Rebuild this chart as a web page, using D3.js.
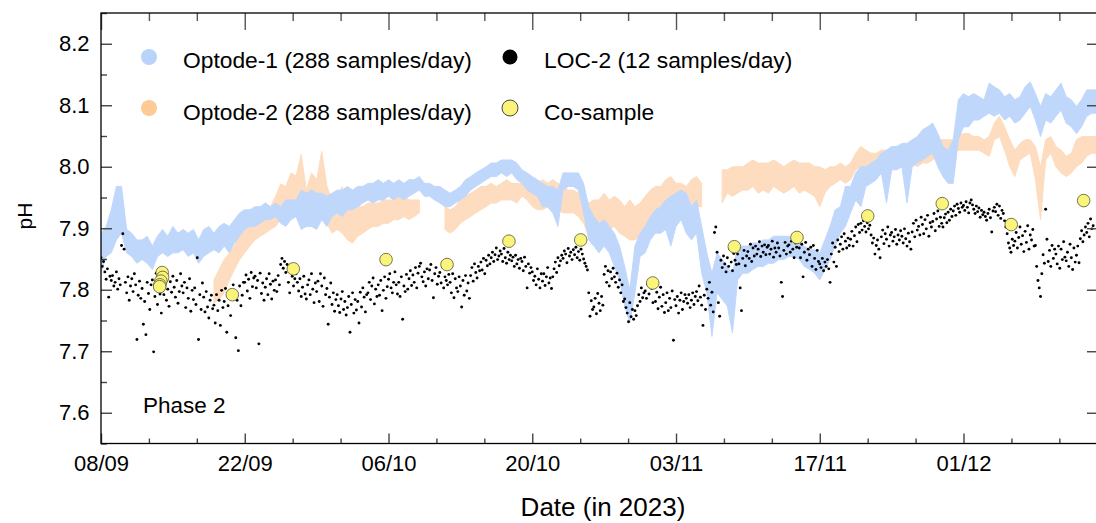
<!DOCTYPE html>
<html><head><meta charset="utf-8">
<script src="https://cdn.jsdelivr.net/npm/d3@7"></script>
<style>body{margin:0;background:#fff}svg{display:block;font-family:"Liberation Sans",Arial,sans-serif}</style>
</head><body><svg id="c" width="1096" height="523"></svg>
<script>
// ---------------- DATA ----------------
const startDateUTC = Date.UTC(2023, 8, 8);   // 08/09/2023
const endDay = 97;                           // 14/12/2023
const optStep = 0.5;                         // optode band samples every half day (day 0 .. 97)

const opt1Hi = [7.892,7.903,7.930,7.968,7.968,7.898,7.892,7.881,7.881,7.887,7.871,7.887,7.898,7.887,7.903,7.892,7.898,7.892,7.898,7.881,
7.898,7.903,7.892,7.903,7.908,7.903,7.914,7.925,7.930,7.930,7.935,7.935,7.941,7.935,7.941,7.935,7.946,7.946,7.946,7.962,
7.957,7.962,7.957,7.957,7.952,7.957,7.962,7.962,7.968,7.962,7.968,7.968,7.973,7.973,7.979,7.973,7.979,7.973,7.979,7.973,
7.979,7.979,7.984,7.973,7.973,7.968,7.968,7.962,7.957,7.962,7.968,7.979,7.984,7.990,7.995,8.000,8.006,8.006,8.011,8.011,
8.011,8.006,7.995,7.990,7.984,7.979,7.973,7.968,7.968,7.962,7.990,7.990,7.990,7.990,7.973,7.935,7.919,7.908,7.914,7.903,
7.892,7.871,7.838,7.800,7.871,7.892,7.903,7.919,7.930,7.935,7.946,7.952,7.957,7.962,7.957,7.935,7.946,7.903,7.860,7.827,
7.860,7.849,7.838,7.827,7.871,7.871,7.871,7.876,7.876,7.881,7.881,7.887,7.887,7.887,7.887,7.881,7.876,7.871,7.865,7.865,
7.860,7.881,7.903,7.930,7.935,7.968,7.968,7.990,8.000,8.000,8.006,8.011,8.022,8.027,8.033,8.033,8.038,8.038,8.044,8.049,
8.060,8.065,8.071,8.054,8.033,8.027,8.044,8.109,8.119,8.114,8.119,8.114,8.109,8.136,8.130,8.125,8.114,8.119,8.109,8.114,
8.130,8.138,8.119,8.098,8.119,8.114,8.125,8.136,8.114,8.109,8.098,8.109,8.125,8.125,8.125];
const opt1Lo = [7.827,7.854,7.860,7.881,7.892,7.860,7.854,7.843,7.849,7.843,7.833,7.854,7.860,7.854,7.860,7.860,7.865,7.854,7.860,7.843,
7.854,7.860,7.865,7.860,7.871,7.860,7.876,7.887,7.898,7.903,7.903,7.908,7.914,7.914,7.919,7.908,7.903,7.914,7.919,7.898,
7.903,7.903,7.898,7.914,7.903,7.919,7.925,7.919,7.930,7.930,7.935,7.941,7.946,7.941,7.946,7.946,7.952,7.946,7.952,7.946,
7.952,7.957,7.962,7.952,7.952,7.946,7.941,7.935,7.935,7.941,7.946,7.952,7.962,7.968,7.973,7.979,7.984,7.984,7.990,7.984,
7.990,7.979,7.973,7.962,7.957,7.952,7.935,7.935,7.925,7.903,7.962,7.968,7.968,7.962,7.925,7.881,7.871,7.860,7.871,7.860,
7.838,7.816,7.773,7.746,7.795,7.854,7.860,7.881,7.892,7.892,7.898,7.871,7.903,7.914,7.892,7.881,7.892,7.827,7.795,7.724,
7.795,7.784,7.773,7.730,7.816,7.827,7.827,7.833,7.838,7.838,7.843,7.843,7.849,7.849,7.854,7.854,7.849,7.838,7.833,7.827,
7.816,7.833,7.849,7.871,7.892,7.903,7.925,7.946,7.935,7.968,7.973,7.979,7.990,7.941,7.995,7.995,8.000,7.941,8.000,8.006,
8.011,8.017,8.022,8.000,7.984,7.973,7.973,8.044,8.065,8.065,8.076,8.076,8.082,8.087,8.082,8.087,8.076,8.082,8.071,8.076,
8.087,8.098,8.076,8.049,8.076,8.071,8.082,8.092,8.071,8.065,8.054,8.065,8.082,8.087,8.087];

const N = null;
const opt2Hi = [N,N,N,N,N,N,N,N,N,N,N,N,N,N,N,N,N,N,N,N,N,N,
7.816,7.833,7.849,7.860,7.871,7.892,7.903,7.908,7.914,7.919,7.941,7.935,7.952,7.972,7.968,7.990,7.985,8.020,7.962,7.990,
7.979,8.025,7.968,7.946,7.952,7.968,7.935,7.930,7.935,7.935,7.941,7.941,7.941,7.946,7.946,7.946,7.952,7.952,7.946,7.946,7.946,
N,N,N,N,
7.935,7.930,7.935,7.946,7.952,7.957,7.962,7.968,7.968,7.973,7.968,7.973,7.979,7.973,7.973,7.973,7.979,7.973,7.973,7.979,
7.973,7.979,7.973,7.968,7.962,7.962,7.957,7.952,7.941,7.946,7.946,7.957,7.946,7.952,7.946,7.935,7.946,7.935,7.941,7.952,
7.962,7.968,7.968,7.979,7.984,7.973,7.973,7.968,7.979,7.984,7.973,
N,N,N,
7.995,7.995,8.000,8.000,8.000,8.006,8.011,8.006,8.006,8.006,8.011,8.006,8.000,8.006,8.011,8.006,8.006,8.006,8.000,8.000,
7.995,8.000,8.000,8.006,8.000,8.006,8.022,8.033,8.027,8.022,8.022,8.027,8.027,8.022,8.027,8.033,8.033,8.033,8.033,8.038,
8.038,8.044,8.044,8.044,8.044,8.044,8.049,8.054,8.054,8.049,8.049,8.044,8.049,8.071,8.082,8.065,8.044,8.027,8.038,8.044,
8.044,8.033,8.000,8.044,8.049,8.033,8.027,8.017,8.022,8.044,8.049,8.049,8.049,8.049];
const opt2Lo = [N,N,N,N,N,N,N,N,N,N,N,N,N,N,N,N,N,N,N,N,N,N,
7.779,7.784,7.795,7.816,7.833,7.849,7.860,7.871,7.881,7.887,7.892,7.898,7.903,7.914,7.919,7.925,7.919,7.903,7.903,7.903,
7.908,7.914,7.908,7.892,7.898,7.892,7.881,7.876,7.887,7.892,7.898,7.903,7.903,7.908,7.908,7.914,7.914,7.919,7.914,7.919,7.925,
N,N,N,N,
7.898,7.892,7.898,7.908,7.914,7.919,7.925,7.930,7.935,7.941,7.941,7.946,7.946,7.946,7.941,7.952,7.946,7.935,7.930,7.930,
7.935,7.925,7.930,7.925,7.925,7.925,7.919,7.908,7.887,7.892,7.903,7.898,7.898,7.903,7.892,7.887,7.881,7.881,7.887,7.892,
7.903,7.914,7.919,7.925,7.930,7.925,7.930,7.925,7.925,7.935,7.935,
N,N,N,
7.941,7.957,7.952,7.957,7.962,7.962,7.968,7.957,7.962,7.957,7.968,7.962,7.957,7.962,7.968,7.957,7.962,7.957,7.952,7.935,
7.957,7.968,7.973,7.979,7.973,7.979,7.995,8.000,8.000,7.995,8.000,8.000,7.995,7.995,8.000,8.000,8.000,8.006,8.000,8.006,
8.006,8.011,8.017,8.017,8.022,8.022,8.027,8.027,8.027,8.027,8.027,8.022,8.017,8.044,8.049,8.027,8.000,7.984,8.011,8.017,
8.022,7.979,7.914,8.011,8.022,8.000,7.990,7.984,7.990,8.000,8.006,8.017,8.022,8.022];

const loc2PerDay = 8;   // LOC-2 values, 8 per day from 08/09
const loc2Values = [
7.852,7.838,7.846,7.829,7.817,7.834,7.788,7.822, 7.815,7.823,7.806,7.812,7.829,7.801,7.818,7.808,
7.872,7.891,7.866,7.812,7.795,7.821,7.783,7.806, 7.818,7.797,7.826,7.808,7.719,7.791,7.814,7.786,
7.802,7.744,7.781,7.727,7.812,7.794,7.768,7.808, 7.816,7.699,7.789,7.827,7.776,7.805,7.793,7.762,
7.809,7.792,7.817,7.783,7.801,7.773,7.813,7.796, 7.822,7.804,7.788,7.815,7.778,7.797,7.826,7.806,
7.795,7.812,7.771,7.803,7.786,7.818,7.765,7.799, 7.784,7.803,7.776,7.852,7.719,7.792,7.768,7.811,
7.788,7.764,7.797,7.772,7.754,7.783,7.791,7.769, 7.775,7.746,7.792,7.766,7.783,7.742,7.799,7.771,
7.781,7.802,7.731,7.774,7.795,7.758,7.787,7.808, 7.797,7.722,7.783,7.701,7.806,7.774,7.791,7.812,
7.812,7.824,7.798,7.817,7.786,7.828,7.805,7.819, 7.822,7.803,7.815,7.712,7.827,7.794,7.811,7.783,
7.804,7.818,7.792,7.826,7.809,7.785,7.814,7.799, 7.816,7.797,7.823,7.808,7.841,7.851,7.835,7.846,
7.828,7.841,7.812,7.795,7.833,7.822,7.806,7.818, 7.826,7.812,7.798,7.818,7.789,7.804,7.822,7.793,
7.785,7.808,7.816,7.792,7.826,7.801,7.779,7.811, 7.797,7.814,7.781,7.826,7.806,7.773,7.819,7.792,
7.802,7.744,7.788,7.811,7.776,7.795,7.765,7.784, 7.792,7.774,7.763,7.785,7.797,7.768,7.781,7.759,
7.771,7.789,7.731,7.776,7.795,7.762,7.784,7.767, 7.781,7.746,7.796,7.772,7.803,7.788,7.764,7.792,
7.795,7.812,7.784,7.806,7.819,7.777,7.801,7.789, 7.808,7.791,7.815,7.766,7.799,7.821,7.786,7.805,
7.817,7.826,7.803,7.795,7.812,7.829,7.808,7.793, 7.812,7.789,7.821,7.752,7.806,7.797,7.825,7.801,
7.818,7.831,7.807,7.824,7.812,7.836,7.803,7.827, 7.838,7.843,7.821,7.813,7.829,7.806,7.834,7.818,
7.832,7.841,7.815,7.787,7.826,7.836,7.809,7.822, 7.828,7.811,7.837,7.803,7.821,7.815,7.808,7.825,
7.812,7.795,7.826,7.787,7.818,7.803,7.797,7.821, 7.806,7.772,7.815,7.791,7.823,7.798,7.811,7.786,
7.823,7.836,7.814,7.842,7.828,7.819,7.838,7.831, 7.845,7.832,7.851,7.826,7.848,7.839,7.856,7.842,
7.852,7.861,7.846,7.857,7.868,7.849,7.855,7.863, 7.858,7.846,7.867,7.852,7.843,7.861,7.849,7.856,
7.847,7.853,7.838,7.856,7.842,7.849,7.835,7.851, 7.846,7.831,7.853,7.838,7.803,7.842,7.827,7.836,
7.829,7.815,7.822,7.808,7.834,7.817,7.803,7.826, 7.814,7.826,7.807,7.821,7.836,7.811,7.819,7.802,
7.821,7.834,7.845,7.828,7.852,7.839,7.847,7.856, 7.851,7.863,7.858,7.844,7.867,7.855,7.861,7.849,
7.865,7.857,7.869,7.852,7.862,7.848,7.866,7.858, 7.850,7.843,7.838,7.832,7.795,7.757,7.782,7.768,
7.772,7.786,7.761,7.794,7.778,7.766,7.789,7.775, 7.825,7.838,7.812,7.831,7.806,7.829,7.818,7.835,
7.821,7.812,7.827,7.804,7.816,7.795,7.808,7.781, 7.785,7.771,7.762,7.748,7.779,7.756,7.768,7.752,
7.766,7.758,7.774,7.792,7.781,7.803,7.787,7.795, 7.798,7.786,7.809,7.793,7.815,7.802,7.779,7.806,
7.781,7.796,7.769,7.788,7.804,7.773,7.792,7.763, 7.779,7.795,7.766,7.786,7.771,7.798,7.718,7.784,
7.774,7.789,7.762,7.783,7.795,7.768,7.781,7.792, 7.786,7.778,7.792,7.771,7.783,7.795,7.776,7.789,
7.797,7.782,7.806,7.788,7.775,7.742,7.791,7.768, 7.801,7.786,7.812,7.775,7.796,7.764,7.893,7.902,
7.861,7.779,7.757,7.848,7.836,7.855,7.842,7.829, 7.852,7.838,7.866,7.845,7.831,7.859,7.848,7.841,
7.858,7.842,7.803,7.766,7.851,7.864,7.839,7.855, 7.862,7.851,7.874,7.846,7.868,7.855,7.871,7.858,
7.866,7.878,7.854,7.871,7.861,7.873,7.857,7.869, 7.872,7.858,7.866,7.879,7.853,7.868,7.861,7.876,
7.868,7.855,7.812,7.789,7.864,7.877,7.858,7.871, 7.873,7.861,7.879,7.866,7.852,7.876,7.869,7.882,
7.868,7.852,7.874,7.821,7.861,7.877,7.848,7.866, 7.857,7.869,7.838,7.872,7.851,7.833,7.864,7.846,
7.842,7.836,7.851,7.831,7.845,7.838,7.849,7.834, 7.812,7.858,7.876,7.845,7.869,7.838,7.881,7.862,
7.874,7.886,7.866,7.891,7.879,7.868,7.884,7.872, 7.882,7.895,7.871,7.888,7.902,7.878,7.906,7.893,
7.908,7.897,7.912,7.903,7.894,7.909,7.899,7.905, 7.889,7.876,7.884,7.858,7.872,7.881,7.866,7.852,
7.886,7.897,7.875,7.891,7.882,7.902,7.871,7.889, 7.893,7.879,7.886,7.898,7.874,7.889,7.881,7.896,
7.887,7.876,7.899,7.883,7.871,7.892,7.878,7.866, 7.894,7.908,7.886,7.913,7.897,7.903,7.889,7.918,
7.906,7.891,7.914,7.899,7.921,7.887,7.909,7.902, 7.911,7.924,7.896,7.915,7.928,7.903,7.918,7.908,
7.902,7.917,7.923,7.909,7.926,7.913,7.931,7.919, 7.928,7.936,7.921,7.939,7.932,7.926,7.941,7.934,
7.937,7.929,7.943,7.934,7.925,7.941,7.946,7.938, 7.931,7.924,7.936,7.927,7.933,7.918,7.929,7.922,
7.926,7.919,7.913,7.924,7.931,7.917,7.894,7.928, 7.934,7.927,7.939,7.921,7.936,7.916,7.929,7.924,
7.912,7.902,7.891,7.876,7.868,7.861,7.882,7.872, 7.879,7.893,7.868,7.885,7.902,7.874,7.888,7.862,
7.895,7.877,7.904,7.866,7.889,7.881,7.898,7.871, 7.872,7.838,7.815,7.803,7.789,7.826,7.857,7.843,
7.931,7.882,7.846,7.864,7.838,7.872,7.851,7.866, 7.858,7.842,7.871,7.835,7.866,7.849,7.878,7.853,
7.847,7.861,7.838,7.874,7.852,7.833,7.868,7.845, 7.856,7.871,7.844,7.883,7.896,7.878,7.889,7.902,
7.893,7.908,7.886,7.915,7.899,7.904];

const coDays   = [5.96,6.00,5.83,5.74,5.71,12.79,18.73,27.76,33.70,39.73,46.72,53.73,61.68,67.78,74.67,81.93,88.65,95.70];
const coValues = [7.828,7.820,7.814,7.808,7.805,7.792,7.834,7.849,7.841,7.879,7.881,7.811,7.870,7.885,7.920,7.940,7.906,7.945];

const xMajorDays = [0,14,28,42,56,70,84];
const yTicks = [7.6,7.7,7.8,7.9,8.0,8.1,8.2];
const yMinor = [7.55,7.65,7.75,7.85,7.95,8.05,8.15,8.25];
const legendLabels = ["Optode-1 (288 samples/day)","Optode-2 (288 samples/day)","LOC-2 (12 samples/day)","Co-sample"];

// ---------------- CHART ----------------
const svg = d3.select("#c");
const L = 101, R = 1097, T = 13, B = 443.5;
const toDate = d => new Date(startDateUTC + d * 864e5);
const x = d3.scaleUtc().domain([toDate(0), toDate(endDay)]).range([L, R]);
const y = d3.scaleLinear().domain([7.55, 8.25]).range([B, T]);

svg.append("defs").append("clipPath").attr("id","clip")
  .append("rect").attr("x",L).attr("y",T).attr("width",R-L).attr("height",B-T);
const plot = svg.append("g").attr("clip-path","url(#clip)");

function band(hi, lo, color){
  const pts = hi.map((h,i)=>({d:i*optStep, h, l:lo[i]}));
  const area = d3.area().defined(p=>p.h!==null && p.l!==null)
    .x(p=>x(toDate(p.d))).y0(p=>y(p.l)).y1(p=>y(p.h));
  plot.append("path").datum(pts).attr("d",area).attr("fill",color)
    .attr("stroke",color).attr("stroke-width",1);
}
band(opt2Hi, opt2Lo, "#fddcbf");
band(opt1Hi, opt1Lo, "#c0d7fc");

plot.append("g").selectAll("circle").data(loc2Values).join("circle")
  .attr("cx",(v,i)=>x(toDate(i/loc2PerDay))).attr("cy",v=>y(v)).attr("r",1.45).attr("fill","#000");

plot.append("g").selectAll("circle").data(coValues).join("circle")
  .attr("cx",(v,i)=>x(toDate(coDays[i]))).attr("cy",v=>y(v)).attr("r",6.3)
  .attr("fill","#fbf47a").attr("stroke","#55553a").attr("stroke-width",0.8);

// axes
const majorDates = xMajorDays.map(toDate);
const minorDates = d3.range(0, endDay, 14/3).filter((d,i)=>i%3!==0).map(toDate);
const fmt = d3.utcFormat("%d/%m");

function styleAxis(g, col){ g.select(".domain").remove(); g.selectAll("line").attr("stroke",col).attr("stroke-width",1.4); }

const gb = svg.append("g").attr("transform",`translate(0,${B})`)
  .call(d3.axisBottom(x).tickValues(majorDates).tickFormat(fmt).tickSizeInner(-10).tickSizeOuter(0).tickPadding(12));
styleAxis(gb,"#444");
gb.selectAll("text").attr("font-size",22).attr("font-family","Liberation Sans, Arial, sans-serif").attr("fill","#000");
const gbm = svg.append("g").attr("transform",`translate(0,${B})`)
  .call(d3.axisBottom(x).tickValues(minorDates).tickFormat("").tickSizeInner(-5).tickSizeOuter(0));
styleAxis(gbm,"#444");

const gt = svg.append("g").attr("transform",`translate(0,${T})`)
  .call(d3.axisTop(x).tickValues(majorDates).tickFormat("").tickSizeInner(-17).tickSizeOuter(0));
styleAxis(gt,"#555");
const gtm = svg.append("g").attr("transform",`translate(0,${T})`)
  .call(d3.axisTop(x).tickValues(minorDates).tickFormat("").tickSizeInner(-8).tickSizeOuter(0));
styleAxis(gtm,"#555");

const gl = svg.append("g").attr("transform",`translate(${L},0)`)
  .call(d3.axisLeft(y).tickValues(yTicks).tickFormat(d3.format(".1f")).tickSizeInner(-11).tickSizeOuter(0).tickPadding(11.5));
styleAxis(gl,"#444");
gl.selectAll("text").attr("font-size",22).attr("font-family","Liberation Sans, Arial, sans-serif").attr("fill","#000");
const glm = svg.append("g").attr("transform",`translate(${L},0)`)
  .call(d3.axisLeft(y).tickValues(yMinor).tickFormat("").tickSizeInner(-6).tickSizeOuter(0));
styleAxis(glm,"#444");

const gr = svg.append("g").attr("transform",`translate(${R},0)`)
  .call(d3.axisRight(y).tickValues(yTicks).tickFormat("").tickSizeInner(-10).tickSizeOuter(0));
styleAxis(gr,"#444");

svg.append("rect").attr("x",L).attr("y",T).attr("width",R-L).attr("height",B-T)
  .attr("fill","none").attr("stroke","#000").attr("stroke-width",1.3);

// titles
svg.append("text").attr("x",603).attr("y",516).attr("text-anchor","middle")
  .attr("font-size",26).text("Date (in 2023)");
svg.append("text").attr("transform","translate(32,216) rotate(-90)").attr("text-anchor","middle")
  .attr("font-size",21).text("pH");
svg.append("text").attr("x",143).attr("y",412.5).attr("font-size",22.5).text("Phase 2");

// legend
const leg = [
  {x:149, y:57,  tx:183, ty:68,    fill:"#b9d3fb", stroke:"none"},
  {x:149, y:108, tx:183, ty:119.5, fill:"#fdca95", stroke:"none"},
  {x:510, y:57,  tx:544, ty:68,    fill:"#000",    stroke:"none"},
  {x:510, y:108, tx:544, ty:119.5, fill:"#fbf47a", stroke:"#333"}
];
const lg = svg.append("g");
leg.forEach((o,i)=>{
  lg.append("circle").attr("cx",o.x).attr("cy",o.y).attr("r",i===2?7.5:8)
    .attr("fill",o.fill).attr("stroke",o.stroke).attr("stroke-width",0.9);
  lg.append("text").attr("x",o.tx).attr("y",o.ty).attr("font-size",22.8).text(legendLabels[i]);
});
</script></body></html>
